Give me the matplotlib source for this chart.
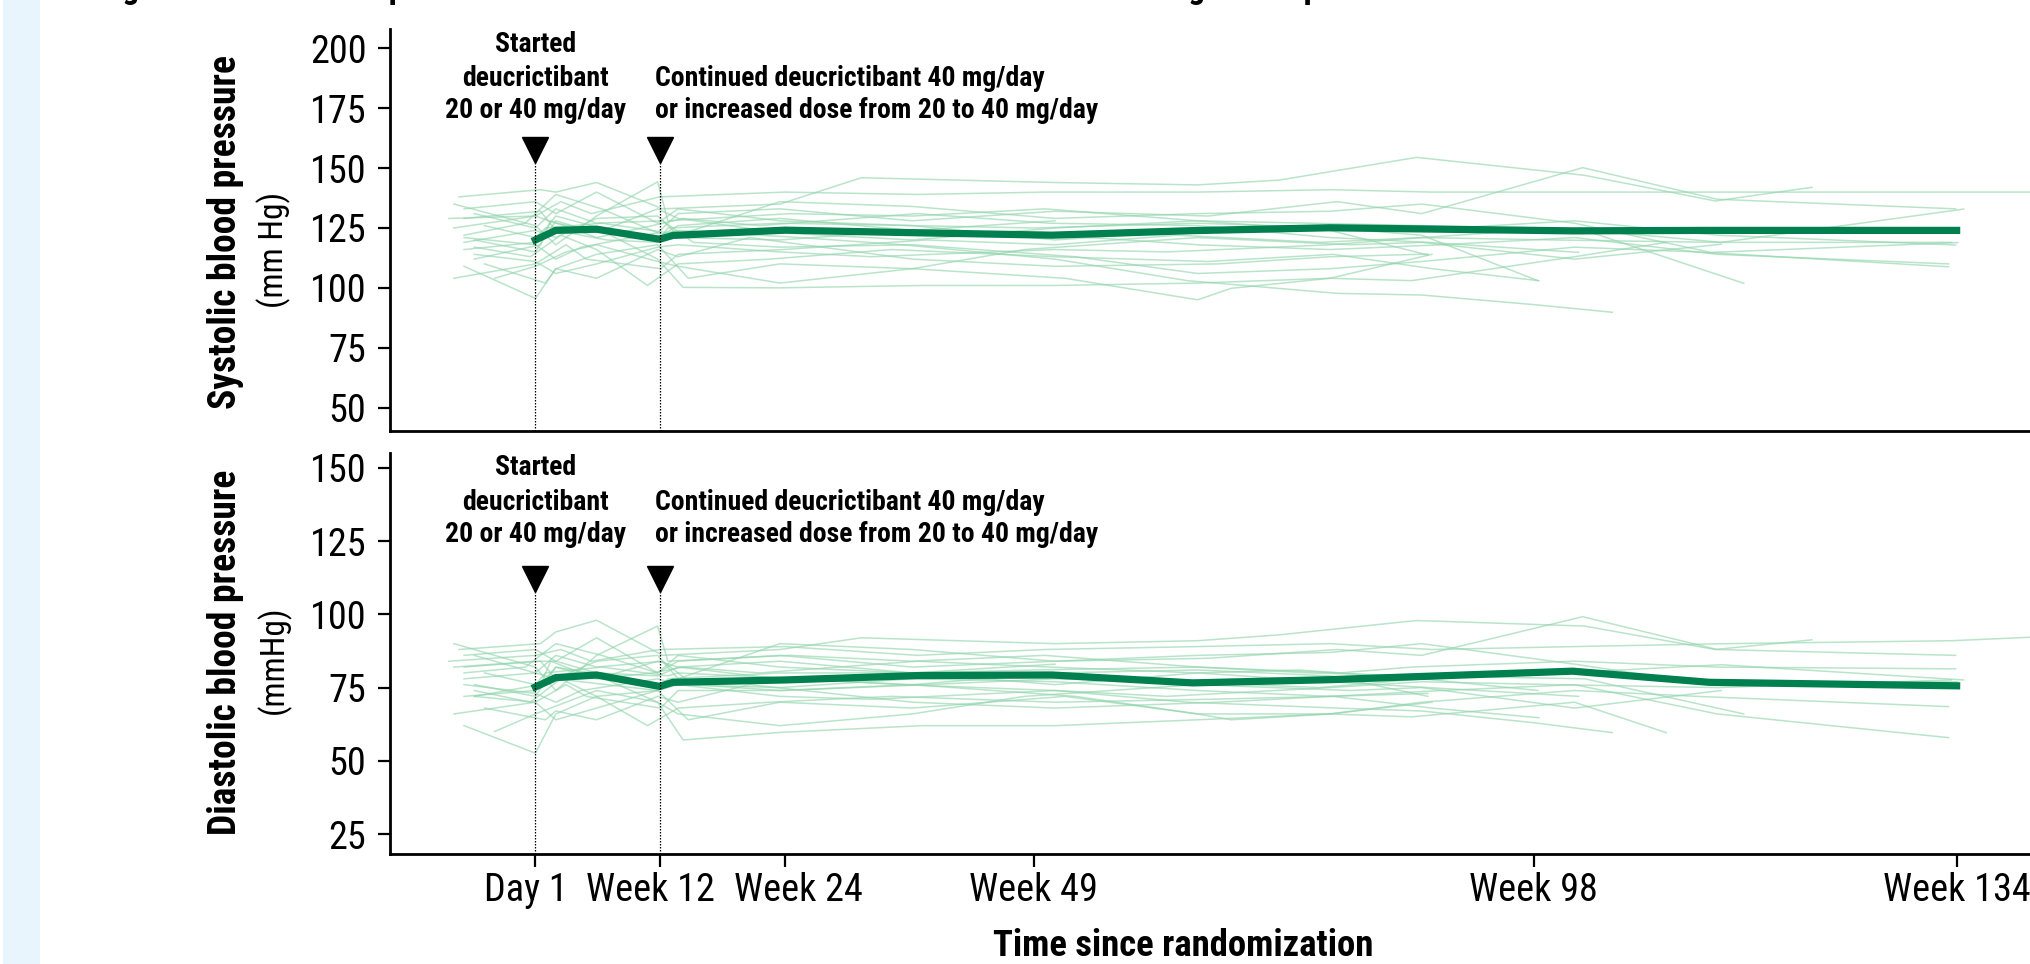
import matplotlib
matplotlib.use("Agg")
import matplotlib.pyplot as plt
from matplotlib import font_manager
from matplotlib.transforms import blended_transform_factory, ScaledTranslation
from matplotlib.patches import Rectangle

names = {f.name for f in font_manager.fontManager.ttflist}
if 'Roboto Condensed' in names:
    COND = ['Roboto Condensed', 'Roboto', 'DejaVu Sans']
    HAS_COND = True
else:
    COND = ['Roboto', 'DejaVu Sans']
    HAS_COND = False
plt.rcParams['font.family'] = COND

# ---------------- data ----------------
tick_weeks = [0, 12.2, 24.5, 48.9, 98, 139.5]
tick_labels = ['Day 1', 'Week 12', 'Week 24', 'Week 49', 'Week 98', 'Week 134']

mean_weeks = [0, 2, 6, 12.2, 13.5, 24.5, 37.5, 50.7, 64.5, 78, 101.8, 115.2, 139.5]
mean_sbp = [120.0, 124.0, 124.5, 120.3, 121.9, 124.1, 123.0, 122.0, 123.9, 125.1, 123.8, 124.0, 124.0]
mean_dbp = [75.2, 78.4, 79.3, 75.4, 76.8, 77.6, 79.1, 79.3, 76.6, 77.7, 80.6, 76.8, 75.6]

patient_weeks = [
    [-7.5, 0.5, 2.0, 6.0, 12.5, 24.0, 32.0, 51.0, 65.0, 73.0, 86.5, 103.0, 115.8, 125.3],
    [-8.5, 0.0, 2.5, 5.5, 12.2, 24.5, 37.5, 50.0, 65.0, 78.0, 88.0, 102.0, 117.0, 139.0, 152.0],
    [-7.0, -1.0, 2.0, 6.5, 12.0, 14.0, 24.0, 37.0, 51.0, 66.0, 78.7, 87.0, 102.8, 116.0, 139.4],
    [-6.0, 0.5, 1.5, 6.0, 11.5, 14.5, 22.0, 37.5, 50.5, 65.0, 78.0, 87.6, 102.4],
    [-8.0, 0.0, 3.0, 5.0, 12.3, 14.0, 24.3, 38.4, 51.0, 63.0, 77.0, 87.0, 101.0, 116.4, 140.2],
    [-7.0, 0.0, 2.0, 6.0, 12.0, 15.0, 24.0, 37.0, 52.0, 65.0, 68.3, 78.0, 88.0],
    [-5.0, 0.0, 1.0, 6.5, 13.0, 14.0, 26.0, 36.0, 51.0, 64.0, 78.7, 87.0, 98.0, 105.7],
    [-7.0, 0.5, 2.0, 7.0, 12.0, 13.0, 24.0, 37.0, 49.0, 65.0, 79.0, 86.0, 102.0, 116.0, 139.4],
    [-6.0, -0.5, 2.5, 6.0, 11.0, 14.0, 23.0, 35.0, 51.0, 66.0, 78.3, 88.0, 98.5],
    [-8.0, 0.0, 2.0, 6.0, 12.0, 13.0, 25.0, 37.0, 50.0, 65.0, 76.0, 87.0, 103.0, 118.6],
    [-7.0, 0.0, 2.0, 5.5, 12.0, 14.5, 24.0, 38.0, 51.0, 65.0, 78.0, 86.0, 102.0, 111.0],
    [-6.0, 0.0, 2.0, 6.0, 12.5, 15.5, 24.0, 37.0, 53.0, 65.0, 78.0, 87.0, 102.0, 114.0, 138.7],
    [-5.0, 1.0, 2.0, 6.0, 12.0, 14.0, 21.0, 37.0, 51.0, 67.0, 78.0, 87.6],
    [-7.0, 0.0, 2.0, 6.0, 12.0, 14.0, 24.0, 37.0, 51.0, 65.0, 78.0, 87.0, 102.0, 115.4, 139.6],
    [-4.0, 0.0, 3.0, 6.0, 12.0, 14.0, 24.0, 37.0, 48.0, 65.0, 80.0, 87.0, 102.0, 116.4],
    [-7.0, 0.0, 2.0, 4.5, 12.0, 14.0, 24.0, 37.0, 51.0, 65.0, 78.0, 89.0, 102.0, 116.0, 138.7],
    [-8.0, 0.0, 2.0, 6.0, 12.0, 14.0, 24.0, 37.0, 51.0],
    [-6.0, 0.0, 2.0, 6.0, 12.0, 14.0, 24.0, 33.0, 51.0, 62.0, 78.0, 87.0, 100.0, 116.0, 139.0],
    [-7.0, 0.0, 2.0, 6.0, 12.0, 14.0, 24.0, 37.0, 51.0, 65.0, 75.0, 87.0, 98.4],
    [-6.0, 0.0, 2.0, 6.0, 12.0, 14.0, 24.0, 37.0, 51.0, 65.0, 78.0, 87.6],
]
patient_sbp = [
    [138, 141, 140, 144, 133, 135, 146, 144, 143, 145, 154.5, 147, 136.3, 142],
    [129, 130, 136, 131, 138, 140, 139, 140, 140, 141, 140, 140, 140, 140, 140],
    [122, 127, 139, 133, 123, 131, 133, 128, 132, 130, 136, 131, 150.2, 137, 133],
    [112, 118, 128, 121, 126, 129, 126, 131, 127, 126, 121, 119, 114.8],
    [104, 110, 118, 112, 108, 114, 116, 120, 118, 122, 119, 121, 125, 119, 132.9],
    [109, 95.6, 108, 114, 118, 104, 110, 108, 104, 95, 99.8, 104, 114],
    [126, 121, 125, 127, 123, 124, 121, 118, 112, 103, 97.7, 97, 93, 89.8],
    [129, 132, 124, 120, 119, 125, 127, 126, 125, 127, 125, 124, 128, 122, 117.9],
    [117, 113, 122, 116, 101, 110, 112, 116, 113, 111, 114, 108, 103],
    [135, 126, 118, 130, 144.3, 128, 131, 130, 133, 128, 127, 126, 124, 101.9],
    [116, 119, 130, 126, 112, 100.2, 100, 101, 101, 102, 104, 103, 113, 119],
    [131, 125, 133, 127, 128, 119, 117, 118, 113, 106, 108, 111, 117, 115, 108.8],
    [110, 102, 108, 104, 116, 113, 121, 112, 109, 110, 113, 114.1],
    [119, 124, 121, 129, 130, 122, 136, 134, 129, 131, 132, 135, 127, 114.8, 118.9],
    [104, 109, 115, 118, 111, 109, 102, 108, 116, 121, 118, 119, 112, 118.2],
    [121, 118, 112, 117, 123, 121, 120, 124, 122, 118, 116, 118, 121, 114, 110],
    [125, 130, 127, 124, 121, 126, 129, 124, 128],
    [114, 111, 106, 110, 117, 118, 115, 113, 116, 115, 118, 121, 120, 119, 119],
    [133, 136, 131, 140, 127, 133, 128, 126, 120, 124, 126, 122, 103],
    [120, 115, 128, 123, 133, 129, 123, 120, 125, 128, 124, 113.7],
]
patient_dbp = [
    [88, 90, 94, 98, 86, 88, 92, 90, 91, 93, 97.9, 96, 88, 91.3],
    [84, 86, 88, 84, 88, 89, 86, 88, 89, 90, 88, 89, 90, 91, 93],
    [80, 82, 90, 86, 80, 84, 86, 82, 84, 85, 88, 86, 99.2, 88, 86],
    [72, 76, 84, 78, 80, 82, 80, 84, 82, 80, 77, 75, 72],
    [66, 70, 76, 72, 68, 74, 74, 76, 78, 77, 75, 78, 80, 82.8, 77.6],
    [62, 52.6, 66, 72, 74, 64, 70, 68, 72, 66, 64, 66, 70],
    [80, 76, 80, 82, 79, 80, 78, 76, 74, 70, 68, 67, 63, 59.6],
    [82, 84, 78, 76, 74, 78, 80, 80, 81, 82, 80, 82, 84, 82, 81.4],
    [74, 70, 78, 72, 62, 68, 70, 72, 70, 71, 72, 68, 64.7],
    [90, 82, 74, 86, 96, 84, 86, 84, 86, 82, 80, 79, 78, 66],
    [72, 74, 82, 80, 70, 57.1, 59.7, 62, 62, 64, 66, 65, 70, 59.6],
    [86, 80, 86, 82, 84, 76, 74, 76, 72, 66, 66, 70, 74, 72, 68.5],
    [68, 64, 67, 64, 72, 70, 76, 70, 68, 70, 72, 73],
    [78, 80, 78, 84, 86, 78, 90, 88, 84, 86, 87, 90, 83, 76, 77],
    [60, 66, 70, 74, 70, 66, 62, 66, 72, 76, 74, 75, 68, 74],
    [76, 73, 70, 74, 78, 76, 75, 78, 77, 74, 72, 74, 76, 66, 57.9],
    [82, 84, 84, 80, 79, 82, 84, 80, 83],
    [72, 70, 64, 68, 74, 76, 72, 71, 74, 72, 75, 77, 76, 75, 77.6],
    [86, 88, 84, 92, 80, 86, 82, 80, 76, 80, 81, 78, 74],
    [76, 72, 82, 78, 84, 82, 78, 76, 80, 81, 79, 72],
]

event_weeks = [0, 12.2]
annot1_lines = ['Started', 'deucrictibant', '20 or 40 mg/day']
annot2_lines = ['Continued deucrictibant 40 mg/day', 'or increased dose from 20 to 40 mg/day']
title_text = 'Figure 4. Mean blood pressure over time in the randomized controlled and the long-term open-label extension'

# ---------------- sizes ----------------
if HAS_COND:
    TICK_FS, ANN_FS, YLAB_FS, UNIT_FS, XLAB_FS, TITLE_FS = 27.5, 20, 27, 24, 26.5, 24
else:
    TICK_FS, ANN_FS, YLAB_FS, UNIT_FS, XLAB_FS, TITLE_FS = 24, 18, 24, 22, 24, 21

# ---------------- figure ----------------
W, H = 2030, 964
fig = plt.figure(figsize=(W / 100, H / 100), dpi=100)
fig.patch.set_facecolor('white')
fig.patches.append(Rectangle((3 / W, 0), 37 / W, 1, transform=fig.transFigure,
                             facecolor='#e8f5fc', edgecolor='none', zorder=0))

fig.text(98 / W, 1 + 2 / H, title_text, fontsize=TITLE_FS, fontweight='bold',
         ha='left', va='baseline')

LIGHT = '#8fd4aa'
DARK = '#007f4f'
XLIM = ((390 - 535.4) / 10.188, (2030 - 535.4) / 10.188)
label_nudge_px = [-10, -9, 13, 0, 0, 0]


def px_axes(top_px, bot_px):
    return fig.add_axes([390 / W, 1 - bot_px / H, (W - 390) / W, (bot_px - top_px) / H])


def panel(ax, series, mean, ylim, yticks, tip_frac, show_x):
    for wk, vals in zip(patient_weeks, series):
        ax.plot(wk, vals, color=LIGHT, lw=1.1, alpha=0.62, zorder=2)
    ax.plot(mean_weeks, mean, color=DARK, lw=5.2, zorder=4, solid_joinstyle='miter')
    ax.set_xlim(*XLIM)
    ax.set_ylim(*ylim)
    ax.set_yticks(yticks)
    for s in ['top', 'right']:
        ax.spines[s].set_visible(False)
    for s in ['left', 'bottom']:
        ax.spines[s].set_linewidth(2.0)
    ax.tick_params(axis='y', length=9, width=1.6, labelsize=TICK_FS, pad=8)
    ax.set_xticks(tick_weeks)
    if show_x:
        ax.set_xticklabels(tick_labels)
        ax.tick_params(axis='x', length=9, width=1.6, labelsize=TICK_FS, pad=4)
        for lab, dx in zip(ax.get_xticklabels(), label_nudge_px):
            lab.set_transform(lab.get_transform() + ScaledTranslation(dx / 100, 0, fig.dpi_scale_trans))
    else:
        ax.tick_params(axis='x', bottom=False, labelbottom=False)
    tr = blended_transform_factory(ax.transData, ax.transAxes)
    for ew in event_weeks:
        ax.plot([ew, ew], [0, tip_frac], transform=tr, color='black', lw=0.9,
                ls=(0, (1.2, 1.2)), zorder=5, clip_on=False)
        ax.plot([ew], [tip_frac + 0.033], transform=tr, marker='v', ms=19,
                color='black', zorder=6, clip_on=False)
    fracs = [0.944, 0.859, 0.778]
    for line, fy in zip(annot1_lines, fracs):
        ax.text(event_weeks[0], fy, line, transform=tr, ha='center', va='baseline',
                fontsize=ANN_FS, fontweight='bold')
    for line, fy in zip(annot2_lines, fracs[1:]):
        ax.text(event_weeks[1] - 0.45, fy, line, transform=tr, ha='left', va='baseline',
                fontsize=ANN_FS, fontweight='bold')


ax1 = px_axes(29.3, 431)
panel(ax1, patient_sbp, mean_sbp, (40.2, 208.0), [50, 75, 100, 125, 150, 175, 200], 0.667, False)

ax2 = px_axes(453, 854.3)
panel(ax2, patient_dbp, mean_dbp, (18.07, 155.1), [25, 50, 75, 100, 125, 150], 0.654, True)

# y labels
fig.text(226 / W, 1 - 232 / H, 'Systolic blood pressure', rotation=90, ha='center', va='center',
         fontsize=YLAB_FS, fontweight='bold')
fig.text(274 / W, 1 - 250 / H, '(mm Hg)', rotation=90, ha='center', va='center', fontsize=UNIT_FS)
fig.text(226 / W, 1 - 652 / H, 'Diastolic blood pressure', rotation=90, ha='center', va='center',
         fontsize=YLAB_FS, fontweight='bold')
fig.text(274 / W, 1 - 660 / H, '(mmHg)', rotation=90, ha='center', va='center', fontsize=UNIT_FS)

fig.text(1183 / W, 1 - 946 / H, 'Time since randomization', ha='center', va='center',
         fontsize=XLAB_FS, fontweight='bold')

fig.savefig('out.png', dpi=100, facecolor='white')
